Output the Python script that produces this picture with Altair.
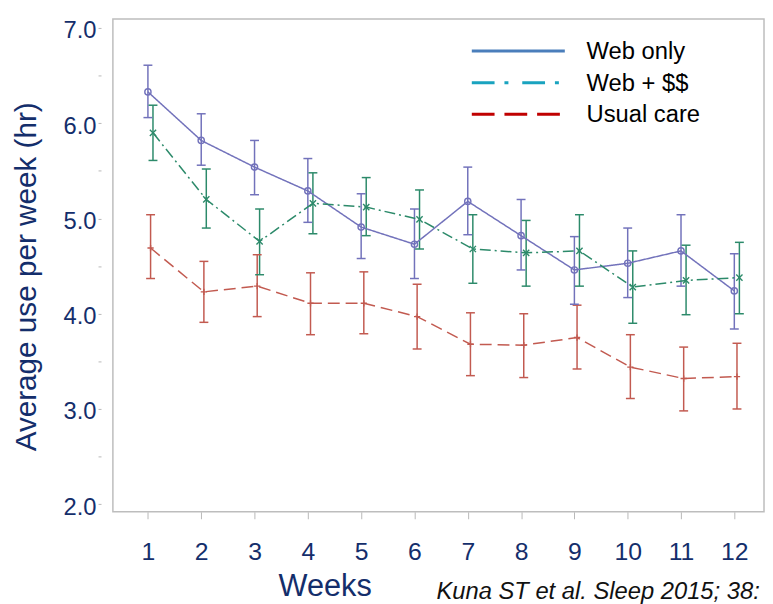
import altair as alt
import pandas as pd

# ---------------- data ----------------
weeks = list(range(1, 13))
groups = ["Web only", "Web + $$", "Usual care"]

web_only_mean = [6.33, 5.82, 5.54, 5.29, 4.91, 4.73, 5.18, 4.82, 4.46, 4.53, 4.66, 4.24]
web_only_hi = [6.61, 6.10, 5.82, 5.63, 5.26, 5.10, 5.54, 5.20, 4.81, 4.90, 5.04, 4.63]
web_only_lo = [6.06, 5.56, 5.25, 4.96, 4.58, 4.37, 4.83, 4.46, 4.10, 4.17, 4.29, 3.84]

web_cash_mean = [5.90, 5.20, 4.76, 5.16, 5.12, 4.99, 4.68, 4.64, 4.66, 4.28, 4.35, 4.38]
web_cash_hi = [6.19, 5.52, 5.10, 5.48, 5.43, 5.30, 5.04, 4.98, 5.04, 4.66, 4.72, 4.75]
web_cash_lo = [5.61, 4.90, 4.41, 4.84, 4.82, 4.68, 4.32, 4.29, 4.29, 3.90, 3.99, 4.00]

usual_mean = [4.69, 4.23, 4.29, 4.11, 4.11, 3.97, 3.68, 3.67, 3.75, 3.44, 3.32, 3.34]
usual_hi = [5.04, 4.55, 4.62, 4.43, 4.44, 4.31, 4.01, 4.00, 4.09, 3.78, 3.65, 3.69]
usual_lo = [4.37, 3.91, 3.97, 3.78, 3.79, 3.63, 3.35, 3.33, 3.42, 3.11, 2.98, 3.00]

y_ticks = [2.0, 2.5, 3.0, 3.5, 4.0, 4.5, 5.0, 5.5, 6.0, 6.5, 7.0]
citation = "Kuna ST et al. Sleep 2015; 38:"

# ---------------- table ----------------
rows = []
for g, means, los, his in zip(
    groups,
    [web_only_mean, web_cash_mean, usual_mean],
    [web_only_lo, web_cash_lo, usual_lo],
    [web_only_hi, web_cash_hi, usual_hi],
):
    for w, m, lo, hi in zip(weeks, means, los, his):
        rows.append({"group": g, "week": w, "mean": m, "lo": lo, "hi": hi})
df = pd.DataFrame(rows)
leg_df = pd.DataFrame({"label": groups, "row": list(range(len(groups)))})
cit_df = pd.DataFrame({"t": [citation]})

# ---------------- styles ----------------
FONT = "Liberation Sans"
NAVY = "#142e6b"
GREY = "#b8b8b8"
plot_colors = ["#7272bb", "#2c8a6a", "#c25a50"]
plot_dash = [[1, 0], [11, 4, 2, 4], [12, 6]]
plot_shapes = ["circle", "M-1,-1L1,1M-1,1L1,-1", "M-1,0L1,0M0,-1L0,1"]
legend_colors = ["#4a7ebb", "#19a3bf", "#c00000"]
legend_dash = [[1, 0], [23, 10, 4, 14], [23, 10]]

base = alt.Chart(df).transform_calculate(
    xpos="datum.week + (datum.group === 'Usual care' ? 0.05 : (datum.group === 'Web + $$' ? 0.095 : 0))"
)

x_enc = alt.X(
    "xpos:Q",
    scale=alt.Scale(domain=[0.343, 12.557], nice=False, zero=False),
    axis=alt.Axis(
        values=weeks, format="d", title="Weeks", domain=False, grid=False,
        tickSize=7, tickColor=GREY, tickWidth=1,
        labelColor=NAVY, labelFontSize=25, labelFont=FONT,
        labelBaseline="alphabetic", labelPadding=41,
        titleX=214, titleY=85, titleAlign="center", titleBaseline="alphabetic",
        titleFontSize=31, titleFont=FONT, titleFontWeight="normal", titleColor=NAVY,
    ),
)
y_scale = alt.Scale(domain=[1.92, 7.095], nice=False, zero=False)
y_axis = alt.Axis(
    values=y_ticks,
    labelExpr="datum.value % 1 == 0 ? format(datum.value, '.1f') : ''",
    title="Average use per week (hr)", offset=12, domain=False, grid=False,
    tickSize=3, tickColor=GREY, tickWidth=1,
    labelColor=NAVY, labelFontSize=24, labelFont=FONT, labelPadding=2,
    labelBaseline="alphabetic", labelOffset=10,
    titleX=-66.5, titleY=260, titleAngle=270, titleAlign="center",
    titleBaseline="alphabetic", titleFontSize=30, titleFont=FONT,
    titleFontWeight="normal", titleColor=NAVY,
)
color_enc = alt.Color("group:N", scale=alt.Scale(domain=groups, range=plot_colors), legend=None)

bars = base.mark_rule(strokeWidth=1.5).encode(
    x=x_enc, y=alt.Y("lo:Q", scale=y_scale, axis=y_axis), y2="hi:Q", color=color_enc
)
cap_hi = base.mark_point(shape="stroke", size=81, strokeWidth=1.5, filled=False, opacity=1).encode(
    x=x_enc, y=alt.Y("hi:Q", scale=y_scale), color=color_enc
)
cap_lo = base.mark_point(shape="stroke", size=81, strokeWidth=1.5, filled=False, opacity=1).encode(
    x=x_enc, y=alt.Y("lo:Q", scale=y_scale), color=color_enc
)
lines = base.mark_line(strokeWidth=1.5).encode(
    x=x_enc, y=alt.Y("mean:Q", scale=y_scale), color=color_enc,
    strokeDash=alt.StrokeDash("group:N", scale=alt.Scale(domain=groups, range=plot_dash), legend=None),
)
points = base.mark_point(filled=False, opacity=1, strokeWidth=1.4, size=40).encode(
    x=x_enc, y=alt.Y("mean:Q", scale=y_scale), color=color_enc,
    shape=alt.Shape("group:N", scale=alt.Scale(domain=groups, range=plot_shapes), legend=None),
)
main = alt.layer(bars, cap_hi, cap_lo, lines, points)

leg_y = alt.Y("row:Q", scale=alt.Scale(domain=[0, 2], range=[32.3, 96.3], nice=False, zero=False), axis=None)
leg_rule = alt.Chart(leg_df).mark_rule(strokeWidth=3).encode(
    x=alt.value(362.7), x2=alt.value(456.7), y=leg_y,
    color=alt.Color("label:N", scale=alt.Scale(domain=groups, range=legend_colors), legend=None),
    strokeDash=alt.StrokeDash("label:N", scale=alt.Scale(domain=groups, range=legend_dash), legend=None),
)
leg_text = alt.Chart(leg_df).mark_text(
    align="left", baseline="alphabetic", dy=8, fontSize=24, font=FONT, color="black"
).encode(x=alt.value(478.7), y=leg_y, text="label:N")
legend = alt.layer(leg_rule, leg_text)

cit = alt.Chart(cit_df).mark_text(
    align="left", baseline="alphabetic", fontSize=24, font=FONT, fontStyle="italic", color="#111111"
).encode(x=alt.value(327), y=alt.value(585.7), text="t:N")

chart = (
    alt.layer(main, legend, cit)
    .resolve_scale(y="independent", color="independent", strokeDash="independent")
    .properties(
        width=658, height=498,
        autosize=alt.AutoSizeParams(type="none"),
        padding={"left": 106, "top": 8, "right": 1, "bottom": 90},
        background="white",
    )
    .configure_view(stroke="#bdbdbd", strokeWidth=1.5)
)

chart.save("out.html", embed_options={"renderer": "svg", "actions": False})
